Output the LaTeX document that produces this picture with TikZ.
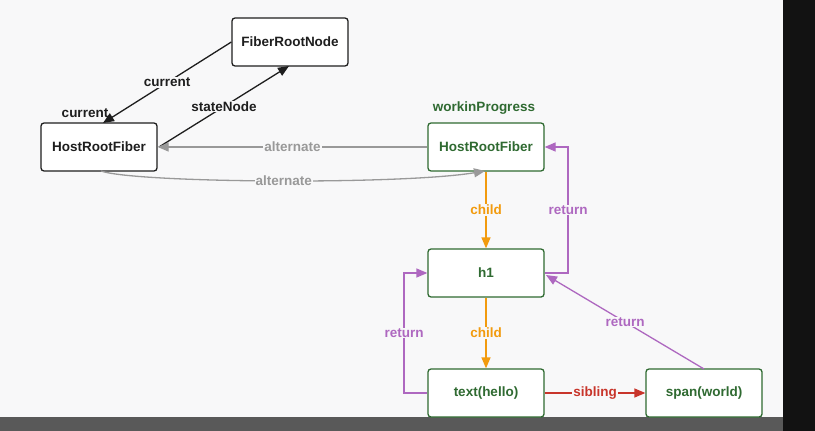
\documentclass[tikz,border=0pt]{standalone}
\usepackage{fontspec}
\setmainfont{Liberation Sans}
\usetikzlibrary{arrows.meta}
\definecolor{bg}{HTML}{F8F8F9}
\definecolor{fgreen}{HTML}{2F6A31}
\definecolor{forange}{HTML}{F29B0E}
\definecolor{fpurple}{HTML}{AE68C0}
\definecolor{fred}{HTML}{C8352B}
\definecolor{fgrey}{HTML}{999999}
\definecolor{fblack}{HTML}{1E1E1E}
\tikzset{
  box/.style={draw=fblack, fill=white, rounded corners=3pt, line width=1.3pt,
    minimum width=116pt, minimum height=48pt, inner sep=0pt,
    font=\fontsize{13.5}{15}\selectfont\bfseries, text=fblack},
  gbox/.style={box, draw=fgreen, text=fgreen},
  lbl/.style={fill=bg, inner sep=1pt, font=\fontsize{13.5}{15}\selectfont\bfseries},
  blk/.style={draw=fblack, line width=1.3pt, -{Triangle[length=11pt,width=9pt]}},
  gry/.style={draw=fgrey, line width=1.3pt, -{Triangle[length=11pt,width=9pt]}},
  org/.style={draw=forange, line width=1.3pt, -{Triangle[length=11pt,width=9pt]}},
  pur/.style={draw=fpurple, line width=1.3pt, -{Triangle[length=11pt,width=9pt]}},
  rd/.style={draw=fred, line width=1.3pt, -{Triangle[length=11pt,width=9pt]}},
}
\begin{document}
\begin{tikzpicture}[x=1pt,y=-1pt]
\useasboundingbox (0,0) rectangle (815,431);
\fill[bg] (0,0) rectangle (815,431);
\fill[black!93] (783,0) rectangle (815,431);
\fill[black!65] (0,417) rectangle (783,431);

\node[box] (frn) at (290,42) {FiberRootNode};
\node[box] (hrf) at (99,147) {HostRootFiber};
\node[gbox] (wip) at (486,147) {HostRootFiber};
\node[gbox] (h1) at (486,273) {h1};
\node[gbox] (txt) at (486,393) {text(hello)};
\node[gbox] (spn) at (704,393) {span(world)};

\node[lbl, text=fblack] (curlbl) at (85,113) {current};
\node[lbl, text=fgreen] (wiplbl) at (484,108) {workinProgress};

\coordinate (hrft) at (103,123);
\draw[blk] (frn.west) -- node[lbl, text=fblack] {current} (hrft);
\coordinate (hrfe) at (159,147);
\coordinate (frnb) at (289,66);
\draw[blk] (hrfe) -- node[lbl, text=fblack] {stateNode} (frnb);

\draw[gry] (wip.west) -- node[lbl, text=fgrey] {alternate} (hrf.east);
\coordinate (hrfb) at (101,171);
\coordinate (wipb) at (485,171);
\draw[gry] (hrfb) .. controls (135,183) and (400,185) .. node[lbl, text=fgrey, pos=0.52] {alternate} (wipb);

\draw[org] (wip.south) -- node[lbl, text=forange] {child} (h1.north);
\draw[org] (h1.south) -- node[lbl, text=forange] {child} (txt.north);

\draw[pur] (h1.east) -- (568,273) -- node[lbl, text=fpurple] {return} (568,147) -- (wip.east);
\draw[pur] (txt.west) -- (404,393) -- node[lbl, text=fpurple, pos=0.5] {return} (404,273) -- (h1.west);
\coordinate (spnt) at (704,369);
\coordinate (h1e) at (546,275);
\draw[pur] (spnt) -- node[lbl, text=fpurple, pos=0.5] {return} (h1e);

\draw[rd] (txt.east) -- node[lbl, text=fred] {sibling} (spn.west);
\end{tikzpicture}
\end{document}
